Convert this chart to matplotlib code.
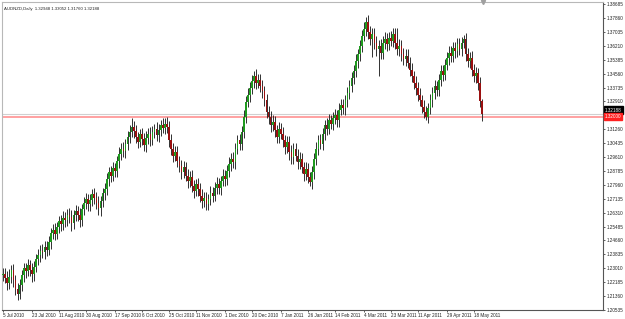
import numpy as np
import pandas as pd
import matplotlib
matplotlib.use("Agg")
import matplotlib.pyplot as plt
import matplotlib.transforms as mtransforms

plt.rcParams["font.family"] = ["Liberation Sans", "DejaVu Sans"]

# AUDNZD daily closes (first bar 5 Jul 2010)
closes = [
    1.2270, 1.2245, 1.2215, 1.2250, 1.2290, 1.2230, 1.2180, 1.2150, 1.2200, 1.2260,
    1.2300, 1.2285, 1.2320, 1.2290, 1.2265, 1.2310, 1.2355, 1.2380, 1.2405, 1.2395,
    1.2430, 1.2410, 1.2455, 1.2510, 1.2530, 1.2505, 1.2545, 1.2580, 1.2565, 1.2600,
    1.2585, 1.2620, 1.2605, 1.2570, 1.2615, 1.2640, 1.2620, 1.2585, 1.2650, 1.2690,
    1.2710, 1.2680, 1.2705, 1.2740, 1.2720, 1.2690, 1.2660, 1.2700, 1.2745, 1.2770,
    1.2830, 1.2870, 1.2850, 1.2895, 1.2880, 1.2935, 1.2980, 1.3010, 1.2995, 1.3040,
    1.3080, 1.3110, 1.3140, 1.3115, 1.3080, 1.3050, 1.3095, 1.3070, 1.3030, 1.3075,
    1.3100, 1.3065, 1.3110, 1.3130, 1.3090, 1.3120, 1.3150, 1.3135, 1.3160, 1.3140,
    1.3060, 1.3010, 1.2970, 1.2990, 1.2940, 1.2905, 1.2870, 1.2900, 1.2850, 1.2820,
    1.2845, 1.2790, 1.2760, 1.2800, 1.2770, 1.2730, 1.2700, 1.2720, 1.2680, 1.2710,
    1.2750, 1.2730, 1.2780, 1.2800, 1.2775, 1.2820, 1.2850, 1.2830, 1.2880, 1.2920,
    1.2950, 1.2930, 1.3010, 1.3060, 1.3040, 1.3110, 1.3200, 1.3290, 1.3330, 1.3370,
    1.3410, 1.3440, 1.3400, 1.3420, 1.3380, 1.3350, 1.3300, 1.3230, 1.3200, 1.3150,
    1.3170, 1.3120, 1.3080, 1.3130, 1.3100, 1.3060, 1.3020, 1.3050, 1.2990, 1.2960,
    1.3010, 1.2970, 1.2930, 1.2950, 1.2900, 1.2860, 1.2890, 1.2840, 1.2810, 1.2870,
    1.2950, 1.3010, 1.3060, 1.3040, 1.3100, 1.3150, 1.3130, 1.3180, 1.3160, 1.3190,
    1.3210, 1.3180, 1.3240, 1.3270, 1.3250, 1.3300, 1.3340, 1.3380, 1.3430, 1.3470,
    1.3530, 1.3570, 1.3620, 1.3680, 1.3720, 1.3760, 1.3700, 1.3660, 1.3690, 1.3640,
    1.3600, 1.3620, 1.3580, 1.3640, 1.3660, 1.3630, 1.3670, 1.3650, 1.3690, 1.3640,
    1.3600, 1.3620, 1.3570, 1.3540, 1.3560, 1.3520, 1.3480, 1.3440, 1.3400, 1.3370,
    1.3330, 1.3300, 1.3260, 1.3230, 1.3200, 1.3250, 1.3300, 1.3340, 1.3380, 1.3360,
    1.3420, 1.3470, 1.3450, 1.3510, 1.3550, 1.3580, 1.3560, 1.3610, 1.3590, 1.3630,
    1.3600, 1.3640, 1.3660, 1.3570, 1.3530, 1.3550, 1.3480, 1.3440, 1.3460, 1.3400,
    1.32948, 1.32188,
]
first_open = 1.2260

# upper / lower shadow lengths in pips
wick_up = [
    30, 35, 40, 45, 32, 38, 30, 35, 40, 32,
    35, 30, 38, 32, 40, 35, 30, 38, 35, 40,
    32, 35, 40, 30, 35, 38, 32, 30, 35, 40,
    35, 32, 38, 40, 30, 35, 32, 38, 30, 35,
    40, 32, 35, 30, 38, 35, 40, 32, 30, 35,
    38, 32, 40, 35, 30, 32, 38, 35, 40, 30,
    35, 40, 50, 35, 38, 32, 30, 40, 35, 38,
    32, 40, 35, 30, 38, 35, 32, 40, 35, 40,
    35, 40, 32, 38, 35, 30, 40, 35, 32, 38,
    35, 40, 32, 30, 38, 35, 40, 32, 35, 30,
    38, 35, 32, 40, 35, 30, 38, 35, 32, 40,
    35, 38, 32, 30, 40, 35, 38, 32, 40, 35,
    38, 30, 45, 35, 32, 40, 35, 38, 32, 35,
    40, 35, 32, 38, 35, 40, 32, 35, 38, 40,
    35, 32, 40, 38, 35, 30, 40, 35, 32, 38,
    35, 40, 32, 38, 35, 30, 40, 35, 32, 38,
    35, 32, 40, 35, 38, 32, 35, 40, 38, 35,
    40, 35, 38, 32, 40, 32, 45, 40, 35, 38,
    40, 35, 42, 38, 40, 35, 30, 40, 38, 35,
    87, 40, 35, 38, 45, 40, 35, 38, 32, 40,
    35, 38, 32, 40, 35, 30, 38, 35, 40, 32,
    35, 38, 40, 32, 35, 40, 38, 35, 32, 40,
    38, 35, 25, 35, 38, 32, 40, 35, 38, 32,
    35, 10.4,
]
wick_dn = [
    35, 32, 40, 35, 38, 40, 35, 37, 32, 35,
    38, 40, 32, 35, 45, 38, 32, 35, 40, 35,
    38, 35, 32, 40, 35, 38, 32, 35, 40, 38,
    40, 35, 38, 45, 35, 32, 40, 38, 35, 32,
    35, 40, 38, 32, 35, 40, 45, 50, 35, 38,
    35, 40, 38, 32, 35, 38, 40, 35, 32, 38,
    38, 35, 32, 40, 35, 38, 32, 40, 35, 38,
    35, 40, 32, 38, 35, 40, 35, 32, 38, 35,
    40, 35, 38, 32, 40, 35, 38, 35, 32, 40,
    38, 35, 40, 32, 38, 35, 40, 38, 33, 35,
    35, 38, 32, 40, 35, 38, 32, 40, 35, 38,
    40, 35, 38, 32, 40, 35, 38, 35, 32, 40,
    35, 40, 38, 32, 35, 40, 38, 35, 40, 38,
    35, 40, 38, 35, 32, 40, 38, 35, 45, 40,
    38, 35, 40, 38, 35, 40, 38, 35, 20, 38,
    40, 35, 38, 32, 35, 40, 38, 35, 32, 38,
    35, 40, 38, 32, 35, 38, 40, 35, 32, 38,
    35, 38, 40, 35, 32, 38, 40, 35, 105, 38,
    40, 160, 38, 35, 40, 38, 35, 32, 38, 40,
    35, 38, 40, 35, 38, 32, 40, 35, 38, 40,
    35, 38, 40, 35, 20, 38, 32, 40, 35, 38,
    35, 40, 38, 32, 35, 40, 38, 35, 40, 38,
    35, 38, 32, 40, 35, 38, 40, 35, 38, 40,
    38, 42.8,
]

date_labels = ["2010-07-05", "2010-07-23", "2010-08-11", "2010-08-30", "2010-09-17",
               "2010-10-06", "2010-10-25", "2010-11-11", "2010-12-01", "2010-12-20",
               "2011-01-07", "2011-01-26", "2011-02-14", "2011-03-04", "2011-03-23",
               "2011-04-11", "2011-04-29", "2011-05-18"]
price_ticks = [1.20535 + 0.00825 * k for k in range(23)]
bid = 1.32188
level = 1.32000

# build bars
closes = np.array(closes)
opens = np.concatenate([[first_open], closes[:-1]])
highs = np.maximum(opens, closes) + np.array(wick_up) / 10000
lows = np.minimum(opens, closes) - np.array(wick_dn) / 10000
dates = pd.bdate_range("2010-07-05", periods=len(closes))
x = np.arange(len(closes))
up = closes >= opens

W, H = 625, 319
fig = plt.figure(figsize=(W / 100, H / 100), dpi=100)
fig.patch.set_facecolor("white")
ax = fig.add_axes([2 / W, 9 / H, 601 / W, 308 / H])
ax.set_facecolor("white")

ax.vlines(x, lows, highs, color="#303030", lw=0.7, zorder=2)
ax.bar(x[up], (closes - opens)[up], bottom=opens[up], width=0.8,
       color="#1f9a1f", edgecolor="none", zorder=3)
ax.bar(x[~up], (closes - opens)[~up], bottom=opens[~up], width=0.8,
       color="#9b1010", edgecolor="none", zorder=3)

# horizontal level and bid line
ax.axhline(level, color="#ff9a9a", lw=1.3, zorder=1)
ax.axhline(bid, color="#d0d0d0", lw=0.8, zorder=1)

ax.set_xlim(-0.5, 289.2)
ax.set_ylim(1.20535, 1.38809)

# chart shift marker
ax.plot([231.3], [1.38809], marker="v", ms=3, color="#a0a0a0", clip_on=False, zorder=5)

ax.yaxis.tick_right()
ax.set_yticks(price_ticks)
# the label under the red level box is hidden on the original
ax.set_yticklabels(["" if abs(p - level) < 0.002 else f"{p:.5f}" for p in price_ticks])
tick_idx = [dates.searchsorted(pd.Timestamp(d)) for d in date_labels]
ax.set_xticks(tick_idx)
ax.set_xticklabels([f"{pd.Timestamp(d).day} {pd.Timestamp(d):%b %Y}" for d in date_labels],
                   ha="left")
ax.tick_params(axis="both", labelsize=3.3, length=1.5, width=0.6, color="#444444",
               labelcolor="#222222", pad=1.0)

for side in ["top", "left"]:
    ax.spines[side].set_color("#b8b8b8")
    ax.spines[side].set_linewidth(0.8)
for side in ["right", "bottom"]:
    ax.spines[side].set_color("#555555")
    ax.spines[side].set_linewidth(0.8)

# price boxes on the right scale (bid box sits just above the level box)
ytrans = ax.get_yaxis_transform()
for val, col, dy in [(bid, "black", 3.5), (level, "#ff2020", 0)]:
    tr = ytrans + mtransforms.ScaledTranslation(0, dy / 100, fig.dpi_scale_trans)
    ax.text(1.003, val, f"{val:.5f}", transform=tr, fontsize=3.3,
            color="white", va="center", ha="left", zorder=10, clip_on=False,
            bbox=dict(boxstyle="square,pad=0.25", fc=col, ec=col))

ax.text(0.004, 0.985, "AUDNZD,Daily  1.32948 1.33052 1.31760 1.32188",
        transform=ax.transAxes, fontsize=3.1, color="#222222", va="top", ha="left")

fig.savefig("out.png", dpi=100, facecolor="white")
